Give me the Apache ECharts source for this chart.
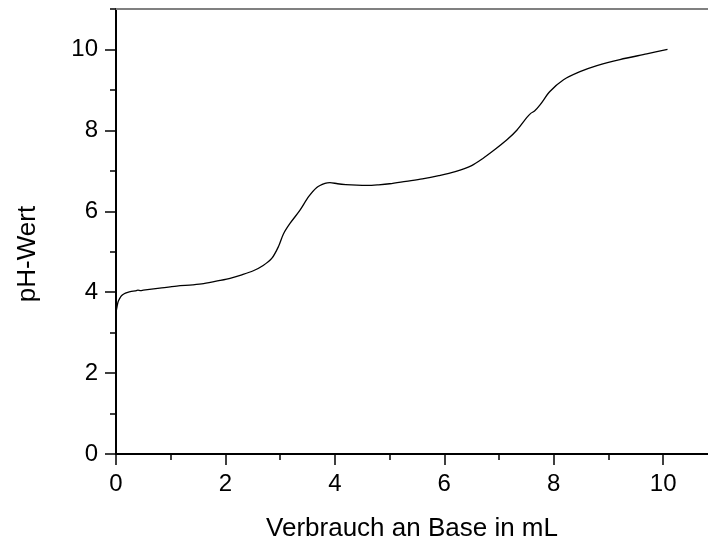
<!DOCTYPE html>
<html>
<head>
<meta charset="utf-8">
<script src="https://cdn.jsdelivr.net/npm/echarts@6/dist/echarts.min.js"></script>
<style>
  html, body { margin: 0; padding: 0; background: #fff; }
  #chart { width: 708px; height: 541px; }
</style>
</head>
<body>
<div id="chart"></div>
<script>
// Titration curve: added base volume (mL) vs. measured pH
const volumeML = [0.00, 0.02, 0.04, 0.07, 0.10, 0.15, 0.20, 0.28, 0.35, 0.40, 0.45, 0.50,
  0.80, 1.11, 1.40, 1.60, 1.90, 2.10, 2.30, 2.51, 2.69, 2.85, 2.97, 3.06, 3.18, 3.36,
  3.52, 3.67, 3.82, 3.91, 4.05, 4.20, 4.40, 4.60, 4.80, 5.00, 5.30, 5.60, 5.90, 6.20,
  6.50, 6.70, 6.90, 7.14, 7.33, 7.51, 7.58, 7.65, 7.75, 7.93, 8.18, 8.48, 8.79, 9.21,
  9.70, 10.08];
const phValue = [3.50, 3.65, 3.77, 3.85, 3.91, 3.96, 3.99, 4.02, 4.03, 4.05, 4.04, 4.05,
  4.10, 4.15, 4.18, 4.21, 4.29, 4.35, 4.43, 4.53, 4.66, 4.84, 5.13, 5.44, 5.70, 6.02,
  6.36, 6.59, 6.69, 6.71, 6.68, 6.66, 6.645, 6.64, 6.655, 6.68, 6.74, 6.80, 6.88, 6.98,
  7.13, 7.30, 7.50, 7.76, 8.01, 8.32, 8.42, 8.48, 8.63, 8.96, 9.25, 9.45, 9.60, 9.75,
  9.89, 10.00];

const xMajorTicks = [0, 2, 4, 6, 8, 10];
const xMinorTicks = [1, 3, 5, 7, 9];
const yMajorTicks = [0, 2, 4, 6, 8, 10];
const yMinorTicks = [1, 3, 5, 7, 9, 11];

const xTitle = 'Verbrauch an Base in mL';
const yTitle = 'pH-Wert';

const FONT = 'Liberation Sans, Arial, sans-serif';
const X_MAX = 10.82;
const Y_MAX = 11;

const points = volumeML.map((v, i) => [v, phValue[i]]);

const chart = echarts.init(document.getElementById('chart'), null, { renderer: 'canvas' });

const baseAxis = {
  type: 'value',
  min: 0,
  interval: 1,
  splitLine: { show: false },
  axisLabel: { show: false },
  axisTick: { show: false },
  axisLine: { show: false }
};

chart.setOption({
  animation: false,
  backgroundColor: '#ffffff',
  grid: { left: 116, right: 0, top: 9, bottom: 87, containLabel: false, outerBoundsMode: 'none' },
  xAxis: [
    Object.assign({}, baseAxis, {
      max: X_MAX, position: 'bottom',
      axisLine: { show: true, onZero: false, lineStyle: { color: '#000', width: 2 } },
      axisTick: { show: true, inside: false, length: 6, customValues: xMinorTicks,
        lineStyle: { color: '#000', width: 1.5 } }
    }),
    Object.assign({}, baseAxis, {
      max: X_MAX, position: 'bottom',
      axisTick: { show: true, inside: false, length: 11, customValues: xMajorTicks,
        lineStyle: { color: '#000', width: 1.5 } },
      axisLabel: { show: true, customValues: xMajorTicks, margin: 18,
        color: '#000', fontFamily: FONT, fontSize: 24 },
      name: xTitle, nameLocation: 'middle', nameGap: 62,
      nameTextStyle: { color: '#000', fontFamily: FONT, fontSize: 26 }
    }),
    Object.assign({}, baseAxis, {
      max: X_MAX, position: 'top',
      axisLine: { show: true, onZero: false, lineStyle: { color: '#808080', width: 2 } }
    })
  ],
  yAxis: [
    Object.assign({}, baseAxis, {
      max: Y_MAX, position: 'left',
      axisLine: { show: true, onZero: false, lineStyle: { color: '#000', width: 2 } },
      axisTick: { show: true, inside: false, length: 6, customValues: yMinorTicks,
        lineStyle: { color: '#000', width: 1.5 } }
    }),
    Object.assign({}, baseAxis, {
      max: Y_MAX, position: 'left',
      axisTick: { show: true, inside: false, length: 11, customValues: yMajorTicks,
        lineStyle: { color: '#000', width: 1.5 } },
      axisLabel: { show: true, customValues: yMajorTicks, margin: 18,
        color: '#000', fontFamily: FONT, fontSize: 24 }
    })
  ],
  graphic: [{
    type: 'text',
    x: 28, y: 254,
    rotation: Math.PI / 2,
    style: {
      text: yTitle, fill: '#000', font: '26px ' + FONT,
      align: 'center', verticalAlign: 'middle'
    }
  }],
  series: [{
    type: 'line',
    xAxisIndex: 0,
    yAxisIndex: 0,
    data: points,
    showSymbol: false,
    smooth: 0.3,
    lineStyle: { color: '#000', width: 1.3 },
    itemStyle: { color: '#000' }
  }]
});
</script>
</body>
</html>
